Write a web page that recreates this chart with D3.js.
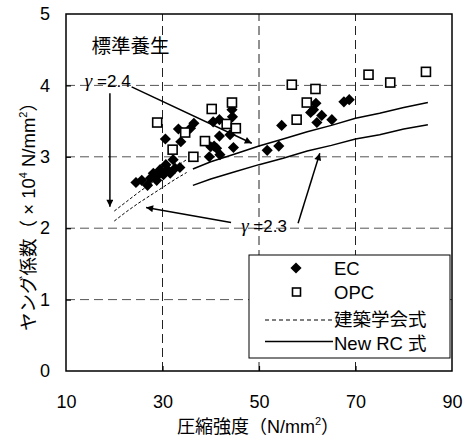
<!DOCTYPE html>
<html><head><meta charset="utf-8">
<script src="https://cdn.jsdelivr.net/npm/d3@7"></script>
<style>
html,body{margin:0;padding:0;background:#fff;}
svg{display:block;}
text{font-family:"Liberation Sans",Arial,"Noto Sans CJK JP",sans-serif;fill:#000;}
.jp{font-family:"Noto Sans CJK JP",sans-serif;}
</style></head>
<body>
<script>
// ---- data ----
const xTicks = [10, 30, 50, 70, 90];
const yTicks = [0, 1, 2, 3, 4, 5];
const ecFc = [24.5,25.7,26.9,27.5,28.1,28.8,29.0,29.5,30.2,30.7,31.0,31.6,32.2,32.6,33.6,
  30.6,33.3,33.8,35.8,36.5,
  40.5,41.8,44.4,44.5,41.8,44.0,40.7,41.2,39.7,41.9,44.7,40.0,
  51.7,54.1,54.7,60.7,61.3,61.8,63.0,62.0,65.1,67.6,68.7];
const ecE = [2.64,2.67,2.60,2.70,2.77,2.67,2.74,2.82,2.75,2.89,2.82,2.77,2.96,2.84,2.85,
  3.25,3.39,3.21,3.40,3.47,
  3.49,3.52,3.66,3.56,3.29,3.31,3.15,3.12,3.00,3.03,3.13,3.14,
  3.09,3.15,3.44,3.62,3.66,3.75,3.58,3.48,3.52,3.77,3.80];
const opcFc = [28.9,32.1,34.7,36.4,38.8,40.2,43.3,44.4,45.2,56.8,57.8,59.9,61.7,72.7,77.2,84.6];
const opcE  = [3.48,3.10,3.34,3.00,3.22,3.67,3.46,3.76,3.40,4.01,3.52,3.76,3.95,4.15,4.04,4.19];
// 建築学会式 (dashed)
const aijFc = [20, 22.5, 25, 27.5, 30, 32.5, 35];
const aij24 = [2.24, 2.37, 2.50, 2.62, 2.74, 2.85, 2.96];
const aij23 = [2.10, 2.23, 2.35, 2.46, 2.57, 2.68, 2.78];
// New RC 式 (solid)
const nrcFc = [36.3, 40, 45, 50, 55, 60, 65, 70, 75, 80, 85];
const nrc24 = [2.83, 2.93, 3.04, 3.15, 3.25, 3.35, 3.44, 3.54, 3.61, 3.69, 3.76];
const nrc23 = [2.60, 2.69, 2.79, 2.89, 2.98, 3.08, 3.16, 3.25, 3.31, 3.39, 3.45];
// annotations (data units)
const arrows = [
  {x1:23.6, y1:3.98, x2:48.5, y2:3.19},
  {x1:19.1, y1:3.89, x2:19.1, y2:2.30},
  {x1:44.2, y1:2.08, x2:26.6, y2:2.29},
  {x1:58.1, y1:2.07, x2:62.6, y2:3.05}
];

const W = 468, H = 439;
const svg = d3.select("body").append("svg").attr("width", W).attr("height", H);
const x = d3.scaleLinear().domain([10, 90]).range([66, 452]);
const y = d3.scaleLinear().domain([0, 5]).range([371, 14]);

const defs = svg.append("defs");
defs.append("marker").attr("id","ah").attr("viewBox","0 0 10 10").attr("refX",10).attr("refY",5)
  .attr("markerWidth",9).attr("markerHeight",7).attr("markerUnits","userSpaceOnUse").attr("orient","auto")
  .append("path").attr("d","M0,0 L10,5 L0,10 Z").attr("fill","#000");

// gridlines
svg.append("g").selectAll("line").data(yTicks.slice(1,-1)).join("line")
  .attr("x1", x(10)).attr("x2", x(90)).attr("y1", d=>y(d)).attr("y2", d=>y(d))
  .attr("stroke","#555").attr("stroke-width",1).attr("stroke-dasharray","9,5");
svg.append("g").selectAll("line").data(xTicks.slice(1,-1)).join("line")
  .attr("y1", y(0)).attr("y2", y(5)).attr("x1", d=>x(d)).attr("x2", d=>x(d))
  .attr("stroke","#222").attr("stroke-width",1).attr("stroke-dasharray","9,5");

// axes
const xAxis = d3.axisBottom(x).tickValues(xTicks).tickSize(-5).tickPadding(24).tickFormat(d3.format("d"));
const yAxis = d3.axisLeft(y).tickValues(yTicks).tickSize(-5).tickPadding(16).tickFormat(d3.format("d"));
const gx = svg.append("g").attr("transform",`translate(0,${y(0)})`).call(xAxis);
const gy = svg.append("g").attr("transform",`translate(${x(10)},0)`).call(yAxis);
[gx, gy].forEach(g=>{
  g.select(".domain").remove();
  g.selectAll(".tick line").attr("stroke","#000").attr("stroke-width",1.2);
  g.selectAll(".tick text").attr("font-size",18).attr("font-family","Liberation Sans, Arial, sans-serif").attr("fill","#000");
});
gx.selectAll(".tick line").filter(d=>d===10||d===90).remove();
gy.selectAll(".tick line").filter(d=>d===0||d===5).remove();

// frame
svg.append("rect").attr("x", x(10)).attr("y", y(5)).attr("width", x(90)-x(10)).attr("height", y(0)-y(5))
  .attr("fill","none").attr("stroke","#000").attr("stroke-width",1.5);

// curves
const line = d3.line().x(d=>x(d[0])).y(d=>y(d[1]));
[aij24, aij23].forEach(arr=>{
  svg.append("path").attr("d", line(aijFc.map((f,i)=>[f,arr[i]])))
    .attr("fill","none").attr("stroke","#000").attr("stroke-width",1).attr("stroke-dasharray","3,2");
});
[nrc24, nrc23].forEach(arr=>{
  svg.append("path").attr("d", line(nrcFc.map((f,i)=>[f,arr[i]])))
    .attr("fill","none").attr("stroke","#000").attr("stroke-width",1.5);
});

// points
const dia = d3.symbol().type(d3.symbolSquare).size(62)();
svg.append("g").selectAll("path").data(ecFc.map((f,i)=>[f,ecE[i]])).join("path")
  .attr("d", dia).attr("transform", d=>`translate(${x(d[0])},${y(d[1])}) rotate(45)`).attr("fill","#000");
svg.append("g").selectAll("rect").data(opcFc.map((f,i)=>[f,opcE[i]])).join("rect")
  .attr("x", d=>x(d[0])-4.5).attr("y", d=>y(d[1])-4.5).attr("width",9).attr("height",9)
  .attr("fill","#fff").attr("stroke","#000").attr("stroke-width",1.6);

// arrows
svg.append("g").selectAll("line").data(arrows).join("line")
  .attr("x1", d=>x(d.x1)).attr("y1", d=>y(d.y1)).attr("x2", d=>x(d.x2)).attr("y2", d=>y(d.y2))
  .attr("stroke","#000").attr("stroke-width",1.5).attr("marker-end","url(#ah)");

// annotation texts
function gammaText(fx, fy, val){
  const t = svg.append("text").attr("x", x(fx)).attr("y", y(fy)).attr("font-size",17);
  t.append("tspan").text("γ").attr("font-family","Liberation Serif, serif").attr("font-style","italic").attr("font-size",19);
  t.append("tspan").text(" =" + val);
}
gammaText(13.9, 3.98, "2.4");
gammaText(46.3, 1.95, "2.3");
svg.append("text").attr("class","jp").attr("x", x(15.3)).attr("y", y(4.46)).attr("font-size",19.5).text("標準養生");

// legend
const lg = svg.append("g");
lg.append("rect").attr("x",249).attr("y",255).attr("width",201).attr("height",103)
  .attr("fill","#fff").attr("stroke","#000").attr("stroke-width",1);
lg.append("path").attr("d", dia).attr("transform","translate(296,268) rotate(45)").attr("fill","#000");
lg.append("rect").attr("x",292.5).attr("y",288).attr("width",8).attr("height",8)
  .attr("fill","#fff").attr("stroke","#000").attr("stroke-width",1.6);
lg.append("line").attr("x1",265).attr("x2",333).attr("y1",320).attr("y2",320)
  .attr("stroke","#000").attr("stroke-width",1.2).attr("stroke-dasharray","4,3");
lg.append("line").attr("x1",265).attr("x2",333).attr("y1",341.5).attr("y2",341.5)
  .attr("stroke","#000").attr("stroke-width",1.5);
const lt = [["EC",275],["OPC",299],["建築学会式",326],["New RC 式",350]];
lt.forEach(([s,yy])=>{
  lg.append("text").attr("x",334).attr("y",yy).attr("font-size",18.5).text(s);
});

// axis titles
const xt = svg.append("text").attr("x",258).attr("y",433).attr("text-anchor","middle").attr("font-size",18);
xt.append("tspan").text("圧縮強度（N/mm");
xt.append("tspan").text("2").attr("font-size",11).attr("dy",-8);
xt.append("tspan").text("）").attr("dy",8);

const yt = svg.append("text").attr("transform","translate(35,212) rotate(-90)").attr("text-anchor","middle").attr("font-size",18.5);
yt.append("tspan").text("ヤング係数（ × 10");
yt.append("tspan").text("4").attr("font-size",11).attr("dy",-8);
yt.append("tspan").text(" N/mm").attr("dy",8);
yt.append("tspan").text("2").attr("font-size",11).attr("dy",-8);
yt.append("tspan").text("）").attr("dy",8);
</script>
</body></html>
